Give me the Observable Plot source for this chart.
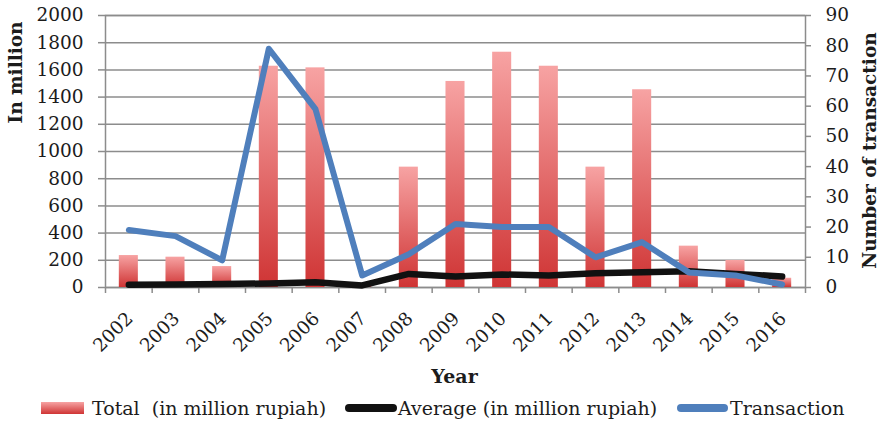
<!DOCTYPE html>
<html>
<head>
<meta charset="utf-8">
<script src="https://cdn.jsdelivr.net/npm/d3@7"></script>
<script src="https://cdn.jsdelivr.net/npm/@observablehq/plot@0.6"></script>
<style>
  html, body { margin: 0; padding: 0; background: #fff; }
  #chart svg { display: block; }
</style>
</head>
<body>
<div id="chart"></div>
<script>
// Yearly land-transaction figures
const years = [2002, 2003, 2004, 2005, 2006, 2007, 2008, 2009, 2010, 2011, 2012, 2013, 2014, 2015, 2016];
const totalMillion = [235, 223, 154, 1627, 1615, 25, 885, 1515, 1730, 1627, 885, 1454, 304, 199, 68];
const averageMillion = [20, 22, 25, 30, 39, 15, 100, 81, 96, 88, 105, 112, 120, 100, 81];
const transactions = [19, 17, 9, 79, 59, 4, 11, 21, 20, 20, 10, 15, 5, 4, 1];

// Axis ticks
const leftTicks = [0, 200, 400, 600, 800, 1000, 1200, 1400, 1600, 1800, 2000];
const rightTicks = [0, 10, 20, 30, 40, 50, 60, 70, 80, 90];

// Labels
const leftTitle = "In million";
const rightTitle = "Number of transaction";
const xTitle = "Year";
const seriesNames = ["Total  (in million rupiah)", "Average (in million rupiah)", "Transaction"];

// The right axis (0–90) shares the plot height with the left axis (0–2000)
const leftMax = 2000, rightMax = 90;
const toLeft = (v) => v * leftMax / rightMax;

const rows = years.map((year, i) => ({
  year,
  total: totalMillion[i],
  average: averageMillion[i],
  transactions: transactions[i]
}));

const grid = "#8c8c8c";
const ink = "#1c1c1c";
const barHalf = 0.204;
const boundaries = years.map((y) => y - 0.5).concat([years[years.length - 1] + 0.5]);

const gradientDefs = () => {
  const defs = d3.create("svg:defs");
  const g = defs.append("linearGradient")
    .attr("id", "barFill").attr("x1", 0).attr("y1", 0).attr("x2", 0).attr("y2", 1);
  g.append("stop").attr("offset", "0%").attr("stop-color", "#f7a3a3");
  g.append("stop").attr("offset", "100%").attr("stop-color", "#cf3434");
  return defs.node();
};

const chart = Plot.plot({
  width: 884,
  height: 392,
  marginTop: 15,
  marginBottom: 105,
  marginLeft: 105,
  marginRight: 79,
  style: { fontFamily: "DejaVu Serif", fontSize: "18.5px", color: ink, background: "#fff" },
  x: { type: "linear", domain: [years[0] - 0.5, years[years.length - 1] + 0.5], axis: null },
  y: { domain: [0, leftMax], axis: null },
  marks: [
    gradientDefs,
    Plot.ruleY(leftTicks, { stroke: grid, strokeWidth: 1.5 }),
    Plot.frame({ stroke: grid, strokeWidth: 1.5 }),
    Plot.axisY({
      ticks: leftTicks, tickSize: 7, tickPadding: 15,
      stroke: grid, strokeWidth: 1.5, fill: ink,
      tickFormat: d3.format("d"), label: null
    }),
    Plot.axisY({
      anchor: "right", ticks: rightTicks.map(toLeft), tickSize: 5, tickPadding: 15,
      stroke: grid, strokeWidth: 1.5, fill: ink,
      tickFormat: (d) => String(Math.round(d * rightMax / leftMax)), label: null
    }),
    Plot.axisX({
      ticks: boundaries, tickSize: 6, stroke: grid, strokeWidth: 1.5,
      tickFormat: () => "", label: null
    }),
    Plot.rectY(rows, {
      x1: (d) => d.year - barHalf, x2: (d) => d.year + barHalf,
      y: "total", fill: "url(#barFill)"
    }),
    Plot.lineY(rows, {
      x: "year", y: "average", stroke: "#111", strokeWidth: 6.5,
      strokeLinejoin: "round", strokeLinecap: "round"
    }),
    Plot.lineY(rows, {
      x: "year", y: (d) => toLeft(d.transactions), stroke: "#4f7fbc", strokeWidth: 6,
      strokeLinejoin: "round"
    }),
    Plot.text(years, {
      x: (d) => d, text: (d) => String(d), frameAnchor: "bottom",
      rotate: -45, textAnchor: "end", lineAnchor: "middle",
      dx: 1, dy: 28, fill: ink
    }),
    Plot.text([leftTitle], {
      text: (d) => d, frameAnchor: "top-left", dx: -89, dy: 57,
      rotate: -90, textAnchor: "middle", lineAnchor: "middle",
      fontWeight: "bold", fill: ink
    }),
    Plot.text([rightTitle], {
      text: (d) => d, frameAnchor: "top-right", dx: 65, dy: 135,
      rotate: -90, textAnchor: "middle", lineAnchor: "middle",
      fontWeight: "bold", fill: ink
    }),
    Plot.text([xTitle], {
      text: (d) => d, frameAnchor: "bottom", dx: -1, dy: 89,
      textAnchor: "middle", lineAnchor: "middle",
      fontWeight: "bold", fontSize: 19, fill: ink
    })
  ]
});

document.getElementById("chart").appendChild(chart);

// Legend row under the chart
const legend = d3.select("#chart").append("svg")
  .attr("width", 884).attr("height", 30)
  .style("display", "block")
  .attr("font-family", "DejaVu Serif").attr("font-size", 19).attr("fill", ink);

const lg = legend.append("defs").append("linearGradient")
  .attr("id", "legendFill").attr("x1", 0).attr("y1", 0).attr("x2", 0).attr("y2", 1);
lg.append("stop").attr("offset", "0%").attr("stop-color", "#f7a3a3");
lg.append("stop").attr("offset", "100%").attr("stop-color", "#cf3434");

const items = [
  { name: seriesNames[0], kind: "bar", x0: 41, x1: 84, tx: 92 },
  { name: seriesNames[1], kind: "line", color: "#111", x0: 349, x1: 393, tx: 398 },
  { name: seriesNames[2], kind: "line", color: "#4f7fbc", x0: 681, x1: 724, tx: 730 }
];

for (const it of items) {
  if (it.kind === "bar") {
    legend.append("rect").attr("x", it.x0).attr("y", 10).attr("width", it.x1 - it.x0).attr("height", 12)
      .attr("fill", "url(#legendFill)");
  } else {
    legend.append("line").attr("x1", it.x0).attr("x2", it.x1).attr("y1", 16).attr("y2", 16)
      .attr("stroke", it.color).attr("stroke-width", 8).attr("stroke-linecap", "round");
  }
  legend.append("text").attr("x", it.tx).attr("y", 23)
    .style("white-space", "pre").text(it.name);
}
</script>
</body>
</html>
